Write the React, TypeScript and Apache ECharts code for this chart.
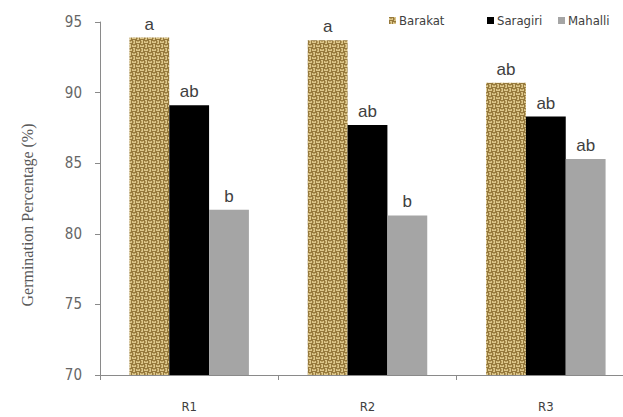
import React, { useEffect, useRef } from "react";
import * as echarts from "echarts";

const categories = ["R1", "R2", "R3"];
const seriesNames = ["Barakat", "Saragiri", "Mahalli"];
const barakat = [93.9, 93.7, 90.7];
const saragiri = [89.1, 87.7, 88.3];
const mahalli = [81.7, 81.3, 85.3];
const barakatLetters = ["a", "a", "ab"];
const saragiriLetters = ["ab", "ab", "ab"];
const mahalliLetters = ["b", "b", "ab"];
const yTitle = "Germination Percentage (%)";

function makeTexture(): string {
  const c = document.createElement("canvas");
  c.width = 8;
  c.height = 8;
  const ctx = c.getContext("2d");
  if (!ctx) return "";
  ctx.fillStyle = "#dcc68a";
  ctx.fillRect(0, 0, 8, 8);
  ctx.fillStyle = "#96793c";
  ctx.fillRect(0, 0, 4, 1);
  ctx.fillRect(0, 3, 4, 1);
  ctx.fillRect(4, 0, 1, 4);
  ctx.fillRect(7, 0, 1, 4);
  ctx.fillRect(4, 4, 4, 1);
  ctx.fillRect(4, 7, 4, 1);
  ctx.fillRect(0, 4, 1, 4);
  ctx.fillRect(3, 4, 1, 4);
  ctx.fillStyle = "#b99d5c";
  ctx.fillRect(1, 1, 2, 1);
  ctx.fillRect(5, 5, 2, 1);
  ctx.fillRect(5, 1, 1, 2);
  ctx.fillRect(1, 5, 1, 2);
  return c.toDataURL();
}

const sansNarrow = "Liberation Sans Narrow, DejaVu Sans Condensed, sans-serif";

export default function App() {
  const ref = useRef<HTMLDivElement>(null);
  useEffect(() => {
    if (!ref.current) return;
    const chart = echarts.init(ref.current, null, { renderer: "svg" });
    const tex = makeTexture();
    const pattern: any = { image: tex, repeat: "repeat" };
    const labelCfg = (letters: string[]) => ({
      show: true,
      position: "top",
      distance: 5,
      color: "#404040",
      fontSize: 17,
      fontFamily: "Liberation Sans, Arial, sans-serif",
      formatter: (p: any) => letters[p.dataIndex],
    });
    const legendPos = [384, 482, 553];
    chart.setOption({
      animation: false,
      backgroundColor: "#ffffff",
      grid: { left: 100, top: 22, bottom: 42, right: 5, containLabel: false },
      legend: seriesNames.map((n, i) => ({
        top: 9,
        left: legendPos[i],
        itemWidth: 7,
        itemHeight: 7,
        itemGap: 4,
        icon: "rect",
        textStyle: { color: "#404040", fontSize: 13, fontFamily: sansNarrow, padding: [0, 0, 0, -2] },
        data: [n],
      })),
      graphic: [
        {
          type: "text",
          x: 27,
          y: 215,
          rotation: Math.PI / 2,
          style: {
            text: yTitle,
            fill: "#595959",
            fontSize: 16,
            fontFamily: "Liberation Serif, Times New Roman, serif",
            textAlign: "center",
            textVerticalAlign: "middle",
          },
        },
      ],
      xAxis: {
        type: "category",
        data: categories,
        axisLine: { lineStyle: { color: "#8a8a8a" } },
        axisTick: { show: true, length: 5, lineStyle: { color: "#8a8a8a" } },
        axisLabel: { margin: 25, color: "#404040", fontSize: 13, fontFamily: sansNarrow },
      },
      yAxis: {
        type: "value",
        min: 70,
        max: 95,
        interval: 5,
        axisLine: { show: true, lineStyle: { color: "#8a8a8a" } },
        axisTick: { show: true, length: 5, lineStyle: { color: "#8a8a8a" } },
        splitLine: { show: false },
        axisLabel: { margin: 18, color: "#666666", fontSize: 15, fontFamily: sansNarrow },
      },
      series: [
        {
          name: seriesNames[0],
          type: "bar",
          data: barakat,
          barGap: "0%",
          barCategoryGap: "33%",
          itemStyle: { color: pattern },
          label: labelCfg(barakatLetters),
        },
        {
          name: seriesNames[1],
          type: "bar",
          data: saragiri,
          itemStyle: { color: "#000000" },
          label: labelCfg(saragiriLetters),
        },
        {
          name: seriesNames[2],
          type: "bar",
          data: mahalli,
          itemStyle: { color: "#a5a5a5" },
          label: labelCfg(mahalliLetters),
        },
      ],
    });
    return () => chart.dispose();
  }, []);
  return (
    <div style={{ position: "fixed", left: 0, top: 0, width: 623, height: 417, overflow: "hidden", background: "#fff" }}>
      <div ref={ref} style={{ width: 640, height: 417 }} />
    </div>
  );
}
